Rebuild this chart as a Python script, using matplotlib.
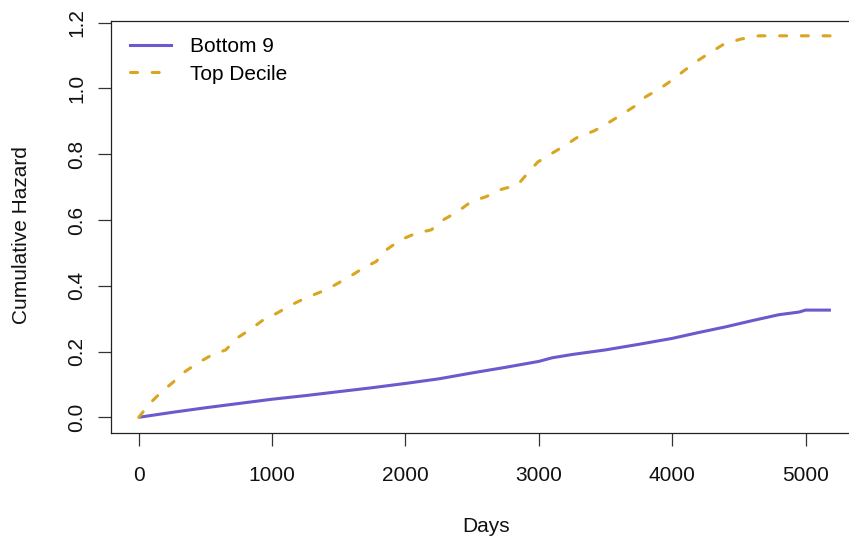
import matplotlib
matplotlib.use("Agg")
import matplotlib.pyplot as plt
from matplotlib.lines import Line2D

plt.rcParams['font.family'] = ['Liberation Sans', 'DejaVu Sans']

# Cumulative hazard estimates by group (days since start)
bottom_days = [0, 250, 500, 750, 1000, 1250, 1500, 1750, 2000, 2250, 2500, 2750,
               3000, 3100, 3250, 3500, 3750, 4000, 4200, 4400, 4600, 4800, 4950,
               5000, 5190]
bottom_haz = [0.0, 0.015, 0.029, 0.042, 0.055, 0.066, 0.078, 0.090, 0.103, 0.117,
              0.135, 0.152, 0.170, 0.181, 0.191, 0.205, 0.222, 0.240, 0.258, 0.275,
              0.294, 0.312, 0.320, 0.326, 0.326]

top_days = [0, 85, 172, 247, 347, 446, 546, 653, 733, 833, 933, 1033, 1145, 1257,
            1370, 1469, 1582, 1681, 1781, 1856, 1960, 2081, 2193, 2290, 2390, 2493,
            2605, 2710, 2841, 2916, 2991, 3091, 3191, 3291, 3415, 3515, 3615, 3715,
            3802, 3902, 4002, 4089, 4189, 4289, 4388, 4513, 4650, 5190]
top_haz = [0.0, 0.043, 0.078, 0.103, 0.139, 0.166, 0.189, 0.205, 0.240, 0.266,
           0.296, 0.316, 0.342, 0.364, 0.382, 0.402, 0.428, 0.453, 0.474, 0.509,
           0.539, 0.560, 0.570, 0.602, 0.625, 0.656, 0.671, 0.692, 0.707, 0.742,
           0.776, 0.801, 0.825, 0.852, 0.871, 0.894, 0.919, 0.945, 0.975, 0.998,
           1.026, 1.054, 1.084, 1.110, 1.135, 1.150, 1.160, 1.160]

series_labels = ["Bottom 9", "Top Decile"]
x_ticks = [0, 1000, 2000, 3000, 4000, 5000]
y_ticks = [0.0, 0.2, 0.4, 0.6, 0.8, 1.0, 1.2]

W, H = 849, 539
fig = plt.figure(figsize=(W / 100, H / 100), dpi=100)
left, right, top, bottom = 111, 860, 20.7, 432.7
ax = fig.add_axes([left / W, 1 - bottom / H, (right - left) / W, (bottom - top) / H])

purple = "#6A5ACD"
gold = "#DAA520"
lw = 2.2
dash = (0, (2.3, 4.8))

ax.plot(bottom_days, bottom_haz, color=purple, lw=lw, solid_capstyle='butt')
ax.plot(top_days, top_haz, color=gold, lw=lw, linestyle=dash, dash_capstyle='round')

ax.set_xlim(-208, 5408)
ax.set_ylim(-0.0468, 1.206)

ax.set_xticks(x_ticks)
ax.set_xticklabels([str(t) for t in x_ticks])
ax.set_yticks(y_ticks)
ax.set_yticklabels([f"{t:.1f}" for t in y_ticks], rotation=90, va='center')

for s in ax.spines.values():
    s.set_linewidth(0.9)
    s.set_color("#222222")
ax.tick_params(axis='both', length=9.7, width=0.9, color="#333333",
               labelsize=15, labelcolor="#111111")
ax.tick_params(axis='x', pad=14)
ax.tick_params(axis='y', pad=8)

fig.text(486 / W, 1 - 531.7 / H, "Days", fontsize=15, ha='center', va='baseline',
         color="#111111")
fig.text(26.7 / W, 1 - 235 / H, "Cumulative Hazard", fontsize=15, rotation=90,
         rotation_mode='anchor', ha='center', va='baseline', color="#111111")

handles = [Line2D([], [], color=purple, lw=lw),
           Line2D([], [], color=gold, lw=lw, linestyle=dash, dash_capstyle='round')]
ax.legend(handles, series_labels, loc='upper left',
          bbox_to_anchor=(130 / W, 1 - 37 / H), bbox_transform=fig.transFigure,
          frameon=False, borderpad=0, borderaxespad=0, handlelength=1.96,
          handletextpad=0.93, labelspacing=0.42, fontsize=15)

fig.savefig("out.png", dpi=100)
